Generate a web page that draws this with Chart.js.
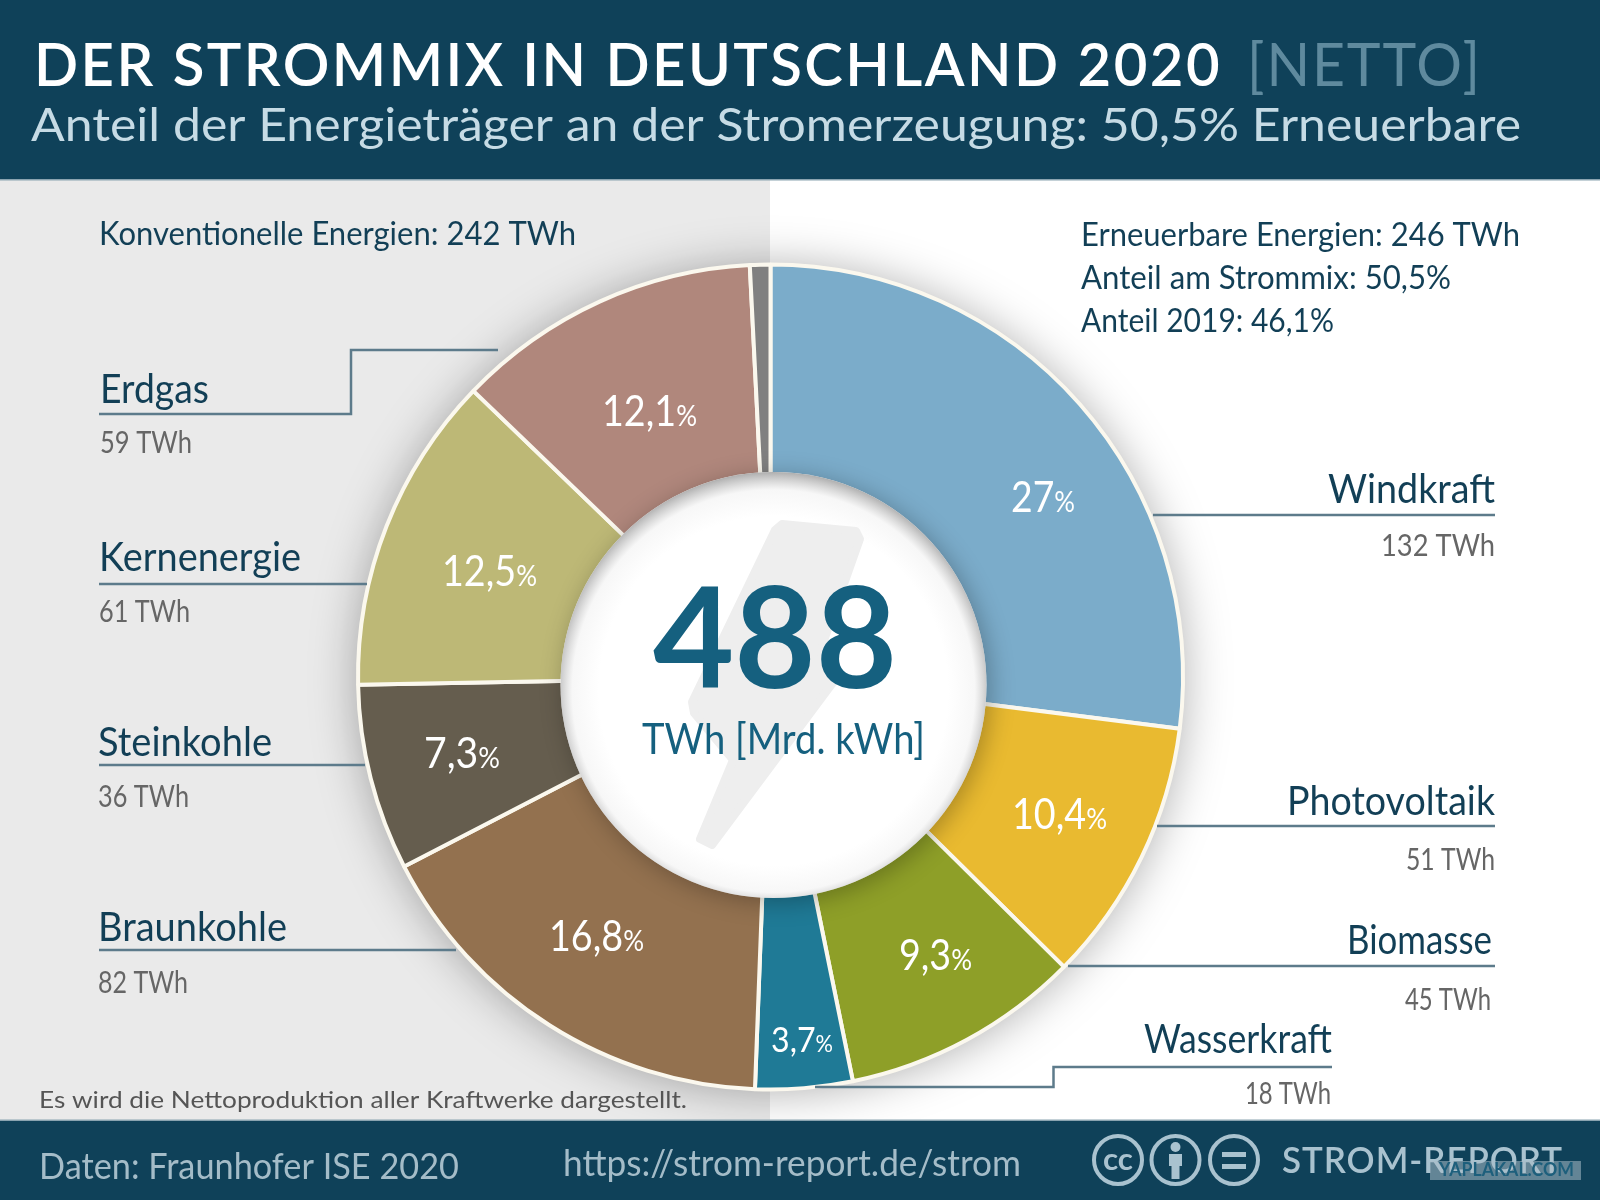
<!DOCTYPE html>
<html lang="de"><head><meta charset="utf-8">
<style>html,body{margin:0;padding:0;background:#fff}canvas{display:block}</style>
<script src="https://cdn.jsdelivr.net/npm/chart.js@4"></script></head>
<body><canvas id="c" width="1600" height="1200"></canvas>
<script>
const categories=["Windkraft","Photovoltaik","Biomasse","Wasserkraft","Braunkohle","Steinkohle","Kernenergie","Erdgas",""];
// slice sizes
const shares=[27,10.4,9.4,3.8,16.8,7.3,12.5,12,0.8];
// percentages as printed on the slices
const printedShares=["27","10,4","9,3","3,7","16,8","7,3","12,5","12,1"];
const twh=[132,51,45,18,82,36,61,59];
const sliceColors=["#7bacca","#e9ba30","#8e9f28","#1f7a96","#93714f","#655d4e","#bdb876","#b0877c","#808080"];
const FONT='Lato';
const NAVY='#123f56',GREY='#666666',TEAL='#15607f',LINE='#5d7b8b';

function T(ctx,text,left,right,base,size,color,weight,ls){
  ctx.save();
  ctx.font=`${weight||400} ${size}px ${FONT}`;
  ctx.letterSpacing=(ls||0)+'px';
  ctx.fillStyle=color;ctx.textAlign='left';ctx.textBaseline='alphabetic';
  const w=ctx.measureText(text).width;
  ctx.translate(left,base);ctx.scale((right-left)/w,1);
  ctx.fillText(text,0,0);ctx.restore();
}
// left,right,baseline of each percent label, same order as categories
const pctBoxes=[[1011,1075,512,42],[1012,1107,829,42],[899,972,970,42],[771,833,1052,34],[549,644,951,42],[424,500,768,42],[442,537,586,42],[602,697,426,42]];
// name: left,right,baseline ; value: left,right,baseline
const nameBoxes=[[1328,1495,503],[1287,1495,815],[1347,1492,954],[1144,1332,1053],[98,287,941],[98,272,756],[99,301,571],[100,209,403]];
const valueBoxes=[[1381,1495,556],[1406,1495,870],[1405,1491,1010],[1245,1331,1104],[98,188,993],[98,189,807],[99,190,622],[100,192,453]];
const leaders=[
 [[1153,515],[1495,515]],
 [[1157,826],[1495,826]],
 [[1068,966],[1495,966]],
 [[815,1087],[1053.5,1087],[1053.5,1067],[1332,1067]],
 [[99,950],[456,950]],
 [[99,765],[365,765]],
 [[99,584],[367,584]],
 [[99,414],[351,414],[351,350],[498,350]]
];
const bolt=[[782,524],[856,531],[860,539],[820,652],[835,680],[712,845],[700,839],[733,760],[694,713],[692,702],[775,530]];

const decor={id:'decor',
 beforeDraw(ch){const c=ch.ctx;
  c.save();c.fillStyle='#fff';c.fillRect(0,0,1600,1200);
  c.fillStyle='#eaeaea';c.fillRect(0,180,770,940);c.restore();},
 beforeDatasetsDraw(ch){const c=ch.ctx,a=ch.getDatasetMeta(0).data[0];
  c.save();c.shadowColor='rgba(0,0,0,.34)';c.shadowBlur=48;c.shadowOffsetY=2;
  c.fillStyle='#ddd';c.beginPath();c.arc(a.x,a.y,a.outerRadius-1,0,Math.PI*2);c.fill();c.restore();},
 afterDatasetsDraw(ch){const c=ch.ctx,a=ch.getDatasetMeta(0).data[0];
  const hx=a.x+3,hy=a.y+8,R=213;
  c.save();c.shadowColor='rgba(0,0,0,.28)';c.shadowBlur=24;c.shadowOffsetX=4;c.shadowOffsetY=4;
  c.fillStyle='#fff';c.beginPath();c.arc(hx,hy,R,0,Math.PI*2);c.fill();c.restore();
  const g=c.createRadialGradient(hx,hy+6,R*0.82,hx,hy+6,R+6);
  g.addColorStop(0,'rgba(190,190,190,0)');g.addColorStop(.6,'rgba(190,190,190,.12)');g.addColorStop(1,'rgba(170,170,170,.95)');
  c.save();c.beginPath();c.arc(hx,hy,R,0,Math.PI*2);c.clip();c.fillStyle=g;c.fillRect(hx-R,hy-R,2*R,2*R);
  c.fillStyle='#eeeeee';c.strokeStyle='#eeeeee';c.lineWidth=8;c.lineJoin='round';
  c.beginPath();bolt.forEach((p,i)=>i?c.lineTo(p[0],p[1]):c.moveTo(p[0],p[1]));c.closePath();c.fill();c.stroke();c.restore();
 },
 afterDraw(ch){const c=ch.ctx;
  c.fillStyle='#0f4159';c.fillRect(0,0,1600,179);c.fillRect(0,1121,1600,79);
  c.fillStyle='#8aa3b0';c.fillRect(0,179,1600,1.5);c.fillRect(0,1119.5,1600,1.5);
  T(c,'DER STROMMIX IN DEUTSCHLAND 2020',34,1222,86,60,'#ffffff',600,2.5);
  T(c,'[NETTO]',1247,1482,86,60,'#5f8a9e',400,2);
  T(c,'Anteil der Energieträger an der Stromerzeugung: 50,5% Erneuerbare',31,1521,141,47,'#c6dbe5',400);
  T(c,'Konventionelle Energien: 242 TWh',99,576,245,33,NAVY);
  T(c,'Erneuerbare Energien: 246 TWh',1081,1520,246,33,NAVY);
  T(c,'Anteil am Strommix: 50,5%',1081,1451,289,33,NAVY);
  T(c,'Anteil 2019: 46,1%',1081,1334,332,33,NAVY);
  T(c,'Es wird die Nettoproduktion aller Kraftwerke dargestellt.',39,687,1108,24,'#555555');
  T(c,'Daten: Fraunhofer ISE 2020',39,459,1179,37,'#a4bcc8');
  T(c,'https://strom-report.de/strom',563,1021,1176,37,'#a4bcc8');
  T(c,'STROM-REPORT',1282,1563,1173,36,'#a9c2cf',600,1);
  c.strokeStyle=LINE;c.lineWidth=2.5;
  leaders.forEach(l=>{c.beginPath();l.forEach((p,i)=>i?c.lineTo(p[0],p[1]):c.moveTo(p[0],p[1]));c.stroke();});
  printedShares.forEach((num,i)=>{
   const nb=nameBoxes[i],vb=valueBoxes[i],pb=pctBoxes[i];
   T(c,categories[i],nb[0],nb[1],nb[2],41,NAVY);
   T(c,twh[i]+' TWh',vb[0],vb[1],vb[2],31,GREY);
   const sz=pb[3],ps=Math.round(sz*0.68);
   c.font=`400 ${sz}px ${FONT}`;const w1=c.measureText(num).width;
   c.font=`400 ${ps}px ${FONT}`;const w2=c.measureText('%').width;
   const k=(pb[1]-pb[0])/(w1+w2);
   T(c,num,pb[0],pb[0]+w1*k,pb[2],sz,'#ffffff');
   T(c,'%',pb[0]+w1*k,pb[1],pb[2],ps,'#ffffff');
  });
  T(c,'488',653,897,688,140,TEAL,700);
  T(c,'TWh [Mrd. kWh]',642,925,754,43,TEAL);
  c.save();c.strokeStyle='#a9c2cf';c.fillStyle='#a9c2cf';c.lineWidth=4;
  [1118,1175.5,1234].forEach(x=>{c.beginPath();c.arc(x,1160,24,0,Math.PI*2);c.stroke();});
  T(c,'cc',1103,1133,1170,30,'#a9c2cf',700);
  c.beginPath();c.arc(1175.5,1147,5,0,Math.PI*2);c.fill();c.fillRect(1169,1154,13,12);c.fillRect(1171.5,1166,8,13);
  c.fillRect(1222,1152,24,5);c.fillRect(1222,1164,24,5);
  c.fillStyle='rgba(170,190,200,.55)';c.fillRect(1430,1161,151,19);
  c.restore();
  T(c,'YAPLAKAL.COM',1439,1574,1176,18,'#1d5f7c',700);
 }};

new Chart(document.getElementById('c'),{
 type:'doughnut',
 data:{labels:categories,datasets:[{data:shares,backgroundColor:sliceColors,borderColor:'#fbf8ee',borderWidth:4}]},
 options:{responsive:false,animation:false,devicePixelRatio:1,cutout:'48%',
  layout:{padding:{left:356,right:415,top:262,bottom:108}},
  plugins:{legend:{display:false},tooltip:{enabled:false}}},
 plugins:[decor]
});
</script></body></html>
